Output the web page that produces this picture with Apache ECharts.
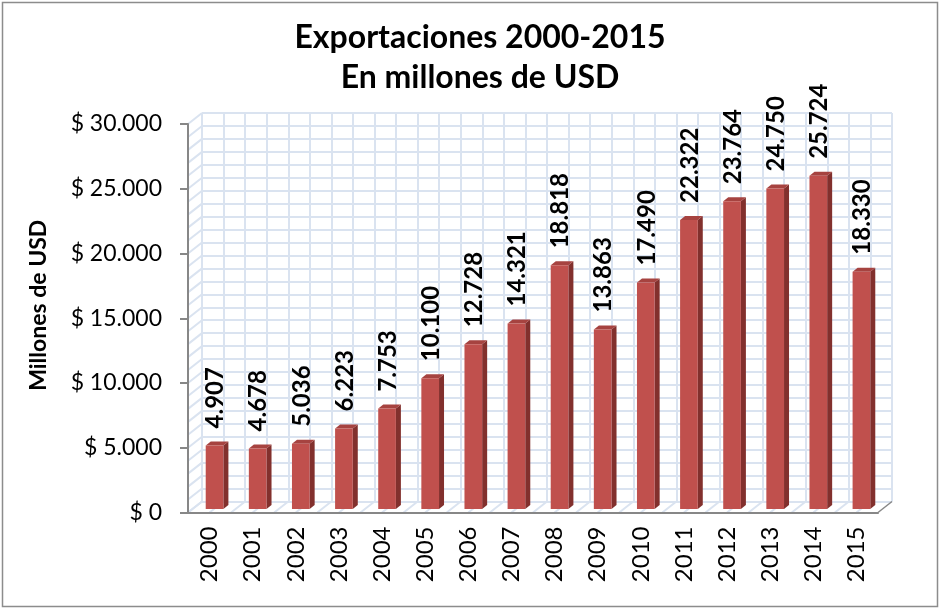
<!DOCTYPE html>
<html><head><meta charset="utf-8">
<script src="https://cdn.jsdelivr.net/npm/echarts@6/dist/echarts.min.js"></script>
<style>html,body{margin:0;padding:0;background:#fff}#c{width:940px;height:609px}</style>
</head><body><div id="c"></div>
<script>
const categories = ['2000','2001','2002','2003','2004','2005','2006','2007','2008','2009','2010','2011','2012','2013','2014','2015'];
const exportValues = [4907, 4678, 5036, 6223, 7753, 10100, 12728, 14321, 18818, 13863, 17490, 22322, 23764, 24750, 25724, 18330];
const titleText = 'Exportaciones 2000-2015\nEn millones de USD';
const yAxisName = 'Millones de USD';
const yMax = 30000, yStep = 5000, yMinorStep = 1000;

const FONT = 'Lato, "Open Sans", sans-serif';
const gridColor = '#DAE3F0';
const axisColor = '#878787';
const DX = 14, DY = -11;
const fmt = v => String(v).replace(/\B(?=(\d{3})+(?!\d))/g, '.');

const halfSteps = Array.from({length: categories.length * 2 + 1}, (_, i) => [i / 2, 0]);
const wallLevels = Array.from({length: yMax / yMinorStep + 1}, (_, i) => [0, i * yMinorStep]);

const chart = echarts.init(document.getElementById('c'), null, {renderer: 'canvas'});
chart.setOption({
  backgroundColor: '#fff',
  animation: false,
  title: {
    text: titleText, left: 475, top: 13, textAlign: 'center',
    textStyle: {fontFamily: FONT, fontSize: 32, fontWeight: 'bold', color: '#000', lineHeight: 40}
  },
  graphic: [{type: 'rect', shape: {x: 2.5, y: 2.5, width: 935, height: 604}, style: {fill: 'none', stroke: '#8c8c8c', lineWidth: 1.5}, z: 0}],
  grid: [
    {left: 188, top: 124, width: 690, height: 388.5},
    {left: 188 + DX, top: 124 + DY, width: 690, height: 388.5}
  ],
  xAxis: [
    {type: 'category', gridIndex: 0, data: categories, z: 5,
      axisLine: {lineStyle: {color: axisColor, width: 2}},
      axisTick: {length: 8, lineStyle: {color: axisColor, width: 2}},
      axisLabel: {rotate: 90, margin: 14, fontFamily: FONT, fontSize: 24, color: '#000'},
      splitLine: {show: false}},
    {type: 'value', gridIndex: 1, min: 0, max: categories.length * 2, interval: 1,
      axisLine: {show: false}, axisTick: {show: false}, axisLabel: {show: false},
      splitLine: {show: true, lineStyle: {color: gridColor, width: 2}}},
    {type: 'value', gridIndex: 0, min: 0, max: categories.length, show: false}
  ],
  yAxis: [
    {type: 'value', gridIndex: 0, min: 0, max: yMax, interval: yStep, z: 5,
      name: yAxisName, nameLocation: 'middle', nameRotate: 90, nameGap: 138,
      nameTextStyle: {fontFamily: FONT, fontSize: 23, fontWeight: 'bold', color: '#000', padding: [0, 0, 0, 26]},
      axisLine: {show: true, lineStyle: {color: axisColor, width: 2}},
      axisTick: {show: true, length: 8, lineStyle: {color: axisColor, width: 2}},
      axisLabel: {margin: 26, fontFamily: FONT, fontSize: 23, color: '#000', formatter: v => '$ ' + fmt(v)},
      splitLine: {show: false}},
    {type: 'value', gridIndex: 1, min: 0, max: yMax, interval: yMinorStep,
      axisLine: {show: false}, axisTick: {show: false}, axisLabel: {show: false},
      splitLine: {show: true, lineStyle: {color: gridColor, width: 2}}}
  ],
  series: [
    {type: 'custom', xAxisIndex: 2, yAxisIndex: 0, z: 1, silent: true, data: halfSteps,
      renderItem: (params, api) => {
        const p = api.coord([api.value(0), 0]);
        const last = api.value(0) === categories.length;
        return {type: 'line', shape: {x1: p[0], y1: p[1], x2: p[0] + DX, y2: p[1] + DY},
          style: {stroke: last ? axisColor : gridColor, lineWidth: last ? 1.5 : 2}};
      }},
    {type: 'custom', xAxisIndex: 2, yAxisIndex: 0, z: 1, silent: true, data: wallLevels,
      renderItem: (params, api) => {
        const p = api.coord([0, api.value(1)]);
        return {type: 'line', shape: {x1: p[0], y1: p[1], x2: p[0] + DX, y2: p[1] + DY},
          style: {stroke: gridColor, lineWidth: 2}};
      }},
    {type: 'custom', xAxisIndex: 0, yAxisIndex: 0, z: 3, data: exportValues.map((v, i) => [i, v]),
      renderItem: (params, api) => {
        const i = api.value(0), v = api.value(1);
        const top = api.coord([i, v]);
        const bot = api.coord([i, 0]);
        const bw = api.size([1, 0])[0] * 0.41;
        const ox = 5, oy = -3.5, dx = 5, dy = -4;
        const x0 = top[0] + ox - bw / 2, x1 = x0 + bw;
        const yt = top[1] + oy, yb = bot[1] + oy;
        return {type: 'group', children: [
          {type: 'polygon', shape: {points: [[x1, yt], [x1 + dx, yt + dy], [x1 + dx, yb + dy], [x1, yb]]}, style: {fill: '#82302D'}},
          {type: 'polygon', shape: {points: [[x0, yt], [x0 + dx, yt + dy], [x1 + dx, yt + dy], [x1, yt]]}, style: {fill: '#A64340'}},
          {type: 'rect', shape: {x: x0, y: yt, width: bw, height: yb - yt}, style: {fill: '#C0504D'}},
          {type: 'text', x: (x0 + x1) / 2 + 1, y: yt + dy - 13, rotation: Math.PI / 2,
            style: {text: fmt(v), fontFamily: FONT, fontSize: 24, fontWeight: 'bold', fill: '#000', align: 'left', verticalAlign: 'middle'}}
        ]};
      }}
  ]
});
</script>
</body></html>
